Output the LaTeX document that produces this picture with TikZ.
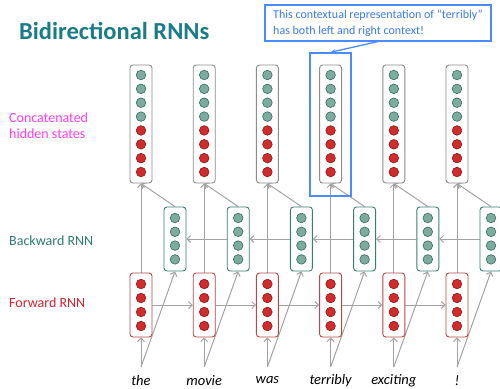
\documentclass[tikz,border=0pt]{standalone}
\usepackage{fontspec}
\setmainfont{Carlito}
\usetikzlibrary{arrows.meta}
\definecolor{titleteal}{HTML}{1B7C88}
\definecolor{labteal}{HTML}{2F7A70}
\definecolor{labred}{HTML}{D3202E}
\definecolor{labmag}{HTML}{FF3CF5}
\definecolor{boxgray}{HTML}{8C8C8C}
\definecolor{fwdborder}{HTML}{B4474A}
\definecolor{bwdborder}{HTML}{3A7E73}
\definecolor{tealfill}{HTML}{7FAB9F}
\definecolor{tealdark}{HTML}{2F6E63}
\definecolor{redfill}{HTML}{D22B2B}
\definecolor{reddark}{HTML}{8A1A1A}
\definecolor{linegray}{HTML}{A3A3A3}
\definecolor{callblue}{HTML}{4A8CFF}
\definecolor{calltext}{HTML}{3B7BE6}
\pgfdeclarelayer{bg}
\pgfsetlayers{bg,main}
\begin{document}
\begin{tikzpicture}[x=1pt,y=-1pt,
  conbox/.style={draw=boxgray, fill=white, rounded corners=3pt, minimum width=22pt, minimum height=118pt, line width=0.9pt, inner sep=0pt},
  fwdbox/.style={draw=fwdborder, fill=white, rounded corners=3pt, minimum width=22pt, minimum height=64pt, line width=0.9pt, inner sep=0pt},
  bwdbox/.style={draw=bwdborder, fill=white, rounded corners=3pt, minimum width=22pt, minimum height=64pt, line width=0.9pt, inner sep=0pt},
  tcirc/.style={circle, draw=tealdark, fill=tealfill, minimum size=9.6pt, inner sep=0pt, line width=0.6pt},
  rcirc/.style={circle, draw=reddark, fill=redfill, minimum size=9.6pt, inner sep=0pt, line width=0.6pt},
  conn/.style={draw=linegray, line width=1pt, -{Straight Barb[length=3.5pt,width=7pt]}},
  word/.style={font=\fontsize{14.5}{16}\selectfont\itshape, inner sep=0pt},
  sidelab/.style={font=\fontsize{14}{16}\selectfont, anchor=west, align=left, inner sep=0pt}
]
\useasboundingbox (0,0) rectangle (500,388);
\clip (0,0) rectangle (500,388);

\node[anchor=west, inner sep=0pt, font=\fontsize{24.5}{28}\selectfont\bfseries, text=titleteal] (title) at (19,31) {Bidirectional RNNs};

\node[sidelab, text=labmag] (lcon) at (9,126) {Concatenated\\hidden states};
\node[sidelab, text=labteal] (lbwd) at (9,241) {Backward RNN};
\node[sidelab, text=labred] (lfwd) at (9,303) {Forward RNN};

\foreach \i/\w in {0/the,1/movie,2/was,3/terribly,4/exciting,5/!} {
  \pgfmathsetmacro\x{141+63.2*\i}
  \pgfmathsetmacro\xb{\x+34}
  \node[conbox] (c\i) at (\x,124) {};
  \node[fwdbox] (f\i) at (\x,305) {};
  \node[bwdbox] (b\i) at (\xb,239) {};
  \coordinate (w\i) at (\x,367);
  \node[word] (t\i) at (\x,380.5) {\w};
  \foreach \k in {0,1,2,3} {
    \node[tcirc] (c\i t\k) at (\x,{75+13.86*\k}) {};
    \node[rcirc] (c\i r\k) at (\x,{75+13.86*(\k+4)}) {};
    \node[rcirc] (f\i r\k) at (\x,{284+14*\k}) {};
    \node[tcirc] (b\i t\k) at (\xb,{218+13.8*\k}) {};
  }
}

\begin{pgfonlayer}{bg}
\foreach \i in {0,...,5} {
  \draw[conn] (f\i.north) -- (c\i.south);
  \draw[conn] (b\i.north) -- (c\i.south);
  \draw[conn] (w\i) -- (f\i.south);
  \draw[conn] (w\i) -- (b\i.south);
}
\foreach \i/\j in {0/1,1/2,2/3,3/4,4/5} {
  \draw[conn] (f\i.east) -- (f\j.west);
  \draw[conn] (b\j.west) -- (b\i.east);
}
\end{pgfonlayer}

\node[draw=callblue, line width=1.4pt, minimum width=41pt, minimum height=143pt, inner sep=0pt] (hl) at (330.5,124.5) {};
\node[draw=callblue, line width=1.1pt, fill=white, minimum width=226pt, minimum height=36pt, inner sep=0pt, align=left, text=calltext, font=\fontsize{12}{16}\selectfont] (call) at (378,23) {This contextual representation of “terribly”\\has both left and right context!};
\draw[callblue, line width=1.3pt, -{Stealth[length=5pt,width=4pt]}] (call.south) -- (hl.north);
\end{tikzpicture}
\end{document}
